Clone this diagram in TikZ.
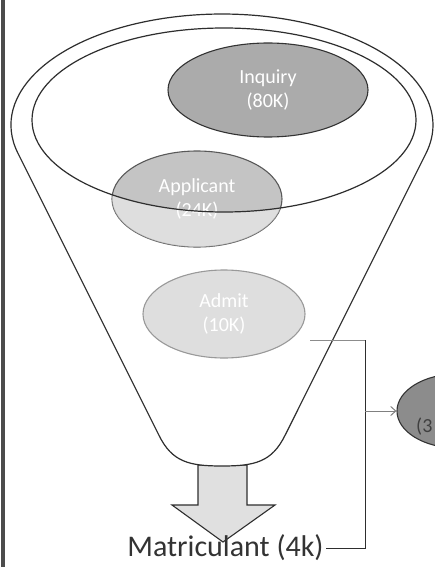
\documentclass[tikz,border=0pt]{standalone}
\usepackage{fontspec}
\newfontfamily\calibri{Carlito}
\usepackage{tikz}
\usetikzlibrary{shapes.geometric, arrows.meta, positioning, calc}

\definecolor{rimline}{HTML}{2E2E2E}

\begin{document}
\begin{tikzpicture}[x=1pt, y=-1pt,
            stage/.style={ellipse, inner sep=0pt, line width=1.1pt, align=center,
            text=white, font=\calibri\fontsize{20}{24}\selectfont},
            funnel/.style={draw=rimline, line width=1.2pt},
            link/.style={draw=rimline, line width=1pt},
            feed/.style={-{Straight Barb[length=5pt, width=9pt]}, draw=black!50, line width=1pt}
        ]
            \useasboundingbox (0,0) rectangle (435,567);
            \clip (0,0) rectangle (435,567);

            % Left margin rule
            \fill[black!70] (1,0) rectangle (5,567);

            % Output arrow below the funnel
            \draw[fill=black!12, draw=rimline, line width=1.1pt]
                (198,465) -- (198,505) -- (172,505) -- (223,542) -- (275,505) -- (247,505) -- (247,465) -- cycle;

            % Funnel body (rim arc + cone)
            \draw[funnel, fill=white] (17.9,153.2) arc[start angle=165.3, end angle=374.7, x radius=211, y radius=111]
                -- (285.2,435) .. controls (272,462) and (255,466) .. (222,466)
                .. controls (189,466) and (172,462) .. (158.8,435) -- cycle;

            % Stages inside the funnel
            \node[stage, draw=black!80, fill=black!33, minimum width=200pt, minimum height=94pt] (inq) at (268,90) {Inquiry\\(80K)};
            \node[stage, draw=black!65, fill=black!23, minimum width=170pt, minimum height=96pt] (app) at (197,199) {Applicant\\(24K)};

            % Lower part of the applicant sits in front of the rim
            \begin{scope}
                \clip (197,199) ellipse [x radius=85, y radius=48];
                \fill[white, opacity=0.45, even odd rule] (0,0) rectangle (435,567)
                    (224,120) ellipse [x radius=192, y radius=92];
            \end{scope}

            % Inner rim
            \draw[funnel] (224,120) ellipse [x radius=192, y radius=92];

            \node[stage, draw=black!40, fill=black!13, minimum width=162pt, minimum height=88pt] (adm) at (224,314) {Admit\\(10K)};

            % Side stage (cut by the page edge)
            \node[stage, draw=black!80, fill=black!45, minimum width=120pt, minimum height=74pt] (ret) at (457,411) {};
            \node[anchor=west, inner sep=0pt, text=black!75, font=\calibri\fontsize{20}{24}\selectfont] (retlbl) at (416,427) {(3};

            % Output label
            \node[inner sep=2pt, text=black!80, font=\calibri\fontsize{30}{36}\selectfont] (mat) at (225.5,548) {Matriculant (4k)};

            % Connectors
            \coordinate (admtap) at (310,340);
            \coordinate (elbow)  at (365,340);
            \coordinate (tap)    at (365,411);
            \draw[link, draw=black!45] (admtap) -- (elbow);
            \draw[link] (elbow) |- (mat.east);
            \draw[feed] (tap) -- (ret.west);

        \end{tikzpicture}
\end{document}
